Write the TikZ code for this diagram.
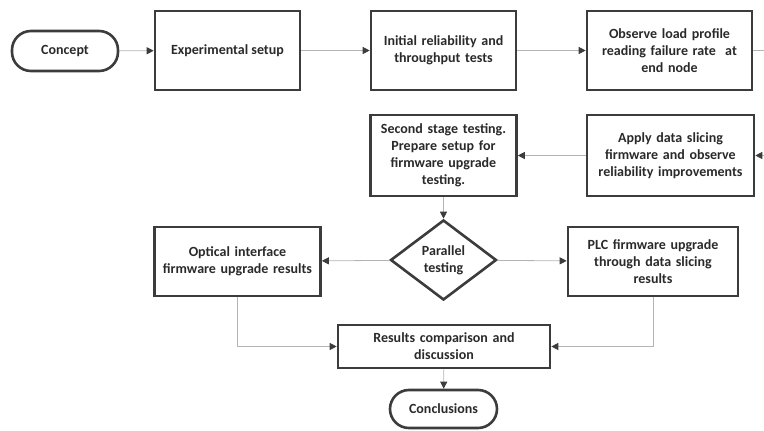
\documentclass[tikz,border=0pt]{standalone}
\usepackage{fontspec}
\setmainfont{Carlito}
\usetikzlibrary{arrows.meta,shapes.geometric}
\definecolor{boxc}{HTML}{3C3C3C}
\definecolor{linec}{HTML}{B4B4B4}
\definecolor{txtc}{HTML}{2A2A2A}
\begin{document}
\begin{tikzpicture}[x=1pt,y=-1pt,
  font=\fontsize{14}{17}\selectfont\bfseries,
  box/.style={draw=boxc,line width=2.6pt,fill=white,align=center,inner sep=2pt,text=txtc},
  term/.style={box,rounded corners=19pt},
  conn/.style={draw=linec,line width=0.8pt,-{Triangle[length=7pt,width=7pt,color=boxc]}},
  plain/.style={draw=linec,line width=0.8pt}]
\useasboundingbox (0,0) rectangle (764,431);
\node[term,minimum width=106pt,minimum height=40pt] (concept) at (65,51) {Concept};
\node[box,minimum width=145pt,minimum height=79pt] (exp) at (227.5,50.5) {Experimental setup};
\node[box,minimum width=145pt,minimum height=79pt,text width=140pt] (init) at (443.5,50.5) {Initial reliability and\\throughput tests};
\node[box,minimum width=165pt,minimum height=79pt,text width=160pt] (obs) at (669.5,50.5) {Observe load profile\\reading failure rate\ \ at\\end node};
\node[box,minimum width=167pt,minimum height=81pt,text width=162pt] (apply) at (670.5,155.5) {Apply data slicing\\firmware and observe\\reliability improvements};
\node[box,minimum width=145pt,minimum height=81pt,text width=142pt] (second) at (443.5,155.5) {Second stage testing.\\Prepare setup for\\firmware upgrade\\testing.};
\node[draw=boxc,line width=2.6pt,diamond,aspect=1.33,minimum width=106pt,minimum height=80pt,inner sep=0pt,align=center,text=txtc,font=\fontsize{14}{17}\selectfont\bfseries] (par) at (443.5,260) {Parallel\\testing};
\node[box,minimum width=165pt,minimum height=69pt,text width=162pt] (opt) at (237.5,261.5) {Optical interface\\firmware upgrade results};
\node[box,minimum width=170pt,minimum height=69pt,text width=165pt] (plc) at (653,261.5) {PLC firmware upgrade\\through data slicing\\results};
\node[box,minimum width=212pt,minimum height=43pt,text width=205pt] (res) at (444,346.5) {Results comparison and\\discussion};
\node[term,minimum width=107pt,minimum height=38pt] (concl) at (443.5,409) {Conclusions};
\coordinate (outr) at (764,50.5);
\coordinate (inr) at (764,155.5);
\draw[conn] (concept) -- (exp);
\draw[conn] (exp) -- (init);
\draw[conn] (init) -- (obs);
\draw[plain] (obs) -- (outr);
\draw[conn] (inr) -- (apply);
\draw[conn] (apply) -- (second);
\draw[conn] (second) -- (par);
\draw[conn] (par) -- (opt);
\draw[conn] (par) -- (plc);
\draw[conn] (opt.south) |- (res.west);
\draw[conn] (plc.south) |- (res.east);
\draw[conn] (res) -- (concl);
\end{tikzpicture}
\end{document}
